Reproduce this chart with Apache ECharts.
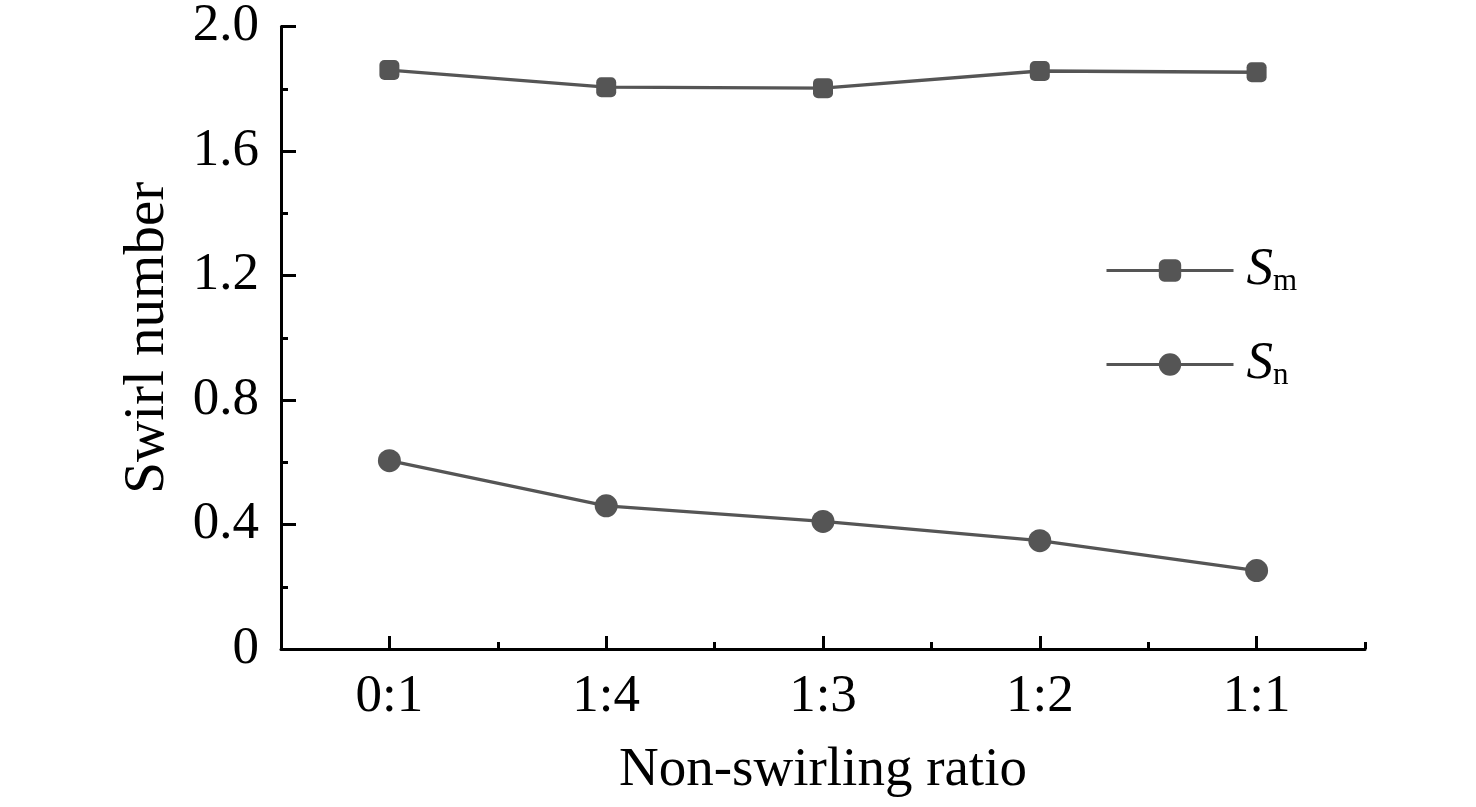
<!DOCTYPE html>
<html>
<head>
<meta charset="utf-8">
<script src="https://cdn.jsdelivr.net/npm/echarts@6/dist/echarts.min.js"></script>
<style>html,body{margin:0;padding:0;background:#fff}#c{width:1476px;height:807px}</style>
</head>
<body>
<div id="c"></div>
<script>
const categories = ['0:1', '1:4', '1:3', '1:2', '1:1'];
const smValues = [1.86, 1.805, 1.802, 1.857, 1.853];
const snValues = [0.605, 0.46, 0.41, 0.348, 0.252];
const yTicks = { min: 0, max: 2.0, interval: 0.4 };

const FONT = 'Liberation Serif';
const C = '#555555';
const chart = echarts.init(document.getElementById('c'));
chart.setOption({
  animation: false,
  backgroundColor: '#fff',
  grid: { left: 281, right: 111, top: 24, bottom: 158, containLabel: false },
  legend: {
    orient: 'vertical',
    left: 1100,
    top: 239,
    itemWidth: 127,
    itemHeight: 28,
    itemGap: 41,
    lineStyle: { width: 3 },
    formatter: function (name) {
      return '{s|S}{sub|' + name.slice(1) + '}';
    },
    textStyle: {
      fontFamily: FONT,
      color: '#000',
      rich: {
        s: { fontFamily: FONT, fontStyle: 'italic', fontSize: 53, color: '#000', padding: [0, 0, 0, 8] },
        sub: { fontFamily: FONT, fontSize: 31, color: '#000', verticalAlign: 'bottom', padding: [22, 0, 0, 0] }
      }
    },
    data: ['Sm', 'Sn']
  },
  xAxis: [{
    type: 'category',
    data: categories,
    boundaryGap: true,
    name: 'Non-swirling ratio',
    nameLocation: 'middle',
    nameGap: 94,
    nameTextStyle: { fontFamily: FONT, fontSize: 55, color: '#000' },
    axisLine: { show: true, lineStyle: { color: '#000', width: 3 } },
    axisTick: { show: true, alignWithLabel: true, inside: true, length: 13, lineStyle: { color: '#000', width: 3 } },
    axisLabel: { fontFamily: FONT, fontSize: 53, color: '#000', margin: 22 },
    splitLine: { show: false }
  }, {
    type: 'category',
    data: categories,
    boundaryGap: true,
    position: 'bottom',
    axisLine: { show: false },
    axisTick: { show: true, alignWithLabel: false, inside: true, length: 7, lineStyle: { color: '#000', width: 3 } },
    axisLabel: { show: false },
    splitLine: { show: false }
  }],
  yAxis: {
    type: 'value',
    min: yTicks.min,
    max: yTicks.max,
    interval: yTicks.interval,
    name: 'Swirl number',
    nameLocation: 'middle',
    nameGap: 104,
    nameTextStyle: { fontFamily: FONT, fontSize: 57, color: '#000' },
    axisLine: { show: true, lineStyle: { color: '#000', width: 3 } },
    axisTick: { show: true, inside: true, length: 15, lineStyle: { color: '#000', width: 3 } },
    minorTick: { show: true, splitNumber: 2, length: 7, lineStyle: { color: '#000', width: 3 } },
    axisLabel: {
      fontFamily: FONT, fontSize: 53, color: '#000', margin: 22,
      formatter: function (v) { return v === 0 ? '0' : v.toFixed(1); }
    },
    splitLine: { show: false }
  },
  series: [{
    name: 'Sm',
    type: 'line',
    data: smValues,
    symbol: 'roundRect',
    symbolSize: 20,
    lineStyle: { color: C, width: 3.3 },
    itemStyle: { color: C },
    z: 3
  }, {
    name: 'Sn',
    type: 'line',
    data: snValues,
    symbol: 'circle',
    symbolSize: 23,
    lineStyle: { color: C, width: 3.3 },
    itemStyle: { color: C },
    z: 3
  }]
});
</script>
</body>
</html>
